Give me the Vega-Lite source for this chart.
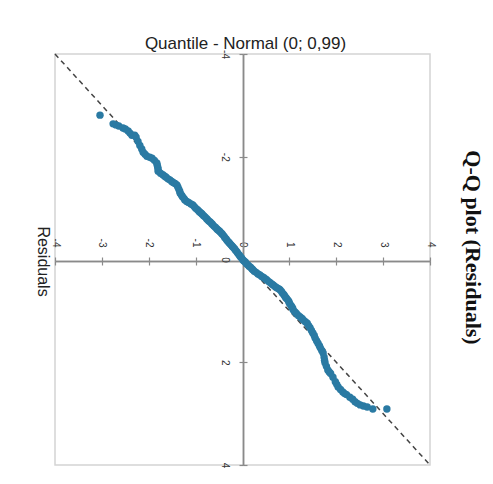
{
  "$schema": "https://vega.github.io/schema/vega-lite/v6.json",
  "width": 375,
  "height": 411,
  "autosize": "none",
  "padding": {"left": 55, "top": 54, "right": 63, "bottom": 19},
  "background": "white",
  "config": {
    "view": {"stroke": "#d4d4d4", "strokeWidth": 1.5},
    "axis": {"grid": false, "domainColor": "#8a8a8a", "domainWidth": 1.5, "tickColor": "#8a8a8a", "tickWidth": 1.2, "tickSize": 4, "labelFont": "Liberation Sans", "labelFontSize": 10, "labelColor": "#333333", "titleFont": "Liberation Sans", "titleFontWeight": "normal", "titleColor": "#222222"}
  },
  "title": {"text": "Q-Q plot (Residuals)", "orient": "right", "anchor": "middle", "font": "Liberation Serif", "fontSize": 22, "fontWeight": "bold", "color": "#111111", "offset": 26, "dx": -12},
  "datasets": {
    "diag": [{"a": -4, "b": -4, "a2": 4, "b2": 4}],
    "qq": [
      {"residual": -3.04, "quantile": -2.81},
      {"residual": -2.76, "quantile": -2.64},
      {"residual": -2.70, "quantile": -2.62},
      {"residual": -2.64, "quantile": -2.60},
      {"residual": -2.55, "quantile": -2.56},
      {"residual": -2.50, "quantile": -2.54},
      {"residual": -2.44, "quantile": -2.50},
      {"residual": -2.40, "quantile": -2.46},
      {"residual": -2.36, "quantile": -2.42},
      {"residual": -2.30, "quantile": -2.42},
      {"residual": -2.27, "quantile": -2.38},
      {"residual": -2.23, "quantile": -2.30},
      {"residual": -2.19, "quantile": -2.22},
      {"residual": -2.15, "quantile": -2.15},
      {"residual": -2.12, "quantile": -2.09},
      {"residual": -2.08, "quantile": -2.05},
      {"residual": -2.04, "quantile": -2.01},
      {"residual": -1.98, "quantile": -1.99},
      {"residual": -1.93, "quantile": -1.97},
      {"residual": -1.88, "quantile": -1.93},
      {"residual": -1.83, "quantile": -1.88},
      {"residual": -1.82, "quantile": -1.84},
      {"residual": -1.81, "quantile": -1.80},
      {"residual": -1.80, "quantile": -1.76},
      {"residual": -1.80, "quantile": -1.72},
      {"residual": -1.75, "quantile": -1.68},
      {"residual": -1.70, "quantile": -1.65},
      {"residual": -1.66, "quantile": -1.62},
      {"residual": -1.63, "quantile": -1.60},
      {"residual": -1.59, "quantile": -1.57},
      {"residual": -1.55, "quantile": -1.55},
      {"residual": -1.51, "quantile": -1.52},
      {"residual": -1.48, "quantile": -1.50},
      {"residual": -1.44, "quantile": -1.48},
      {"residual": -1.40, "quantile": -1.45},
      {"residual": -1.38, "quantile": -1.41},
      {"residual": -1.36, "quantile": -1.37},
      {"residual": -1.34, "quantile": -1.33},
      {"residual": -1.33, "quantile": -1.29},
      {"residual": -1.30, "quantile": -1.25},
      {"residual": -1.28, "quantile": -1.22},
      {"residual": -1.25, "quantile": -1.19},
      {"residual": -1.23, "quantile": -1.16},
      {"residual": -1.19, "quantile": -1.13},
      {"residual": -1.15, "quantile": -1.11},
      {"residual": -1.10, "quantile": -1.08},
      {"residual": -1.06, "quantile": -1.06},
      {"residual": -1.03, "quantile": -1.03},
      {"residual": -1.00, "quantile": -1.00},
      {"residual": -0.96, "quantile": -0.97},
      {"residual": -0.93, "quantile": -0.94},
      {"residual": -0.91, "quantile": -0.92},
      {"residual": -0.88, "quantile": -0.90},
      {"residual": -0.86, "quantile": -0.88},
      {"residual": -0.83, "quantile": -0.85},
      {"residual": -0.80, "quantile": -0.83},
      {"residual": -0.77, "quantile": -0.80},
      {"residual": -0.75, "quantile": -0.78},
      {"residual": -0.72, "quantile": -0.75},
      {"residual": -0.69, "quantile": -0.73},
      {"residual": -0.66, "quantile": -0.70},
      {"residual": -0.64, "quantile": -0.68},
      {"residual": -0.61, "quantile": -0.65},
      {"residual": -0.58, "quantile": -0.63},
      {"residual": -0.55, "quantile": -0.60},
      {"residual": -0.53, "quantile": -0.58},
      {"residual": -0.50, "quantile": -0.56},
      {"residual": -0.48, "quantile": -0.54},
      {"residual": -0.45, "quantile": -0.51},
      {"residual": -0.43, "quantile": -0.49},
      {"residual": -0.40, "quantile": -0.46},
      {"residual": -0.38, "quantile": -0.43},
      {"residual": -0.35, "quantile": -0.40},
      {"residual": -0.33, "quantile": -0.37},
      {"residual": -0.30, "quantile": -0.34},
      {"residual": -0.28, "quantile": -0.32},
      {"residual": -0.26, "quantile": -0.30},
      {"residual": -0.24, "quantile": -0.28},
      {"residual": -0.22, "quantile": -0.26},
      {"residual": -0.20, "quantile": -0.24},
      {"residual": -0.17, "quantile": -0.21},
      {"residual": -0.15, "quantile": -0.18},
      {"residual": -0.12, "quantile": -0.15},
      {"residual": -0.10, "quantile": -0.12},
      {"residual": -0.07, "quantile": -0.09},
      {"residual": -0.05, "quantile": -0.06},
      {"residual": -0.02, "quantile": -0.03},
      {"residual": 0.01, "quantile": 0.01},
      {"residual": 0.03, "quantile": 0.03},
      {"residual": 0.06, "quantile": 0.05},
      {"residual": 0.08, "quantile": 0.08},
      {"residual": 0.11, "quantile": 0.10},
      {"residual": 0.14, "quantile": 0.13},
      {"residual": 0.17, "quantile": 0.15},
      {"residual": 0.20, "quantile": 0.18},
      {"residual": 0.22, "quantile": 0.20},
      {"residual": 0.25, "quantile": 0.23},
      {"residual": 0.29, "quantile": 0.25},
      {"residual": 0.33, "quantile": 0.28},
      {"residual": 0.37, "quantile": 0.30},
      {"residual": 0.41, "quantile": 0.33},
      {"residual": 0.45, "quantile": 0.35},
      {"residual": 0.49, "quantile": 0.38},
      {"residual": 0.52, "quantile": 0.40},
      {"residual": 0.56, "quantile": 0.43},
      {"residual": 0.59, "quantile": 0.45},
      {"residual": 0.63, "quantile": 0.48},
      {"residual": 0.66, "quantile": 0.50},
      {"residual": 0.70, "quantile": 0.53},
      {"residual": 0.73, "quantile": 0.55},
      {"residual": 0.77, "quantile": 0.57},
      {"residual": 0.80, "quantile": 0.59},
      {"residual": 0.83, "quantile": 0.62},
      {"residual": 0.85, "quantile": 0.65},
      {"residual": 0.88, "quantile": 0.68},
      {"residual": 0.90, "quantile": 0.71},
      {"residual": 0.92, "quantile": 0.74},
      {"residual": 0.94, "quantile": 0.76},
      {"residual": 0.97, "quantile": 0.79},
      {"residual": 0.99, "quantile": 0.82},
      {"residual": 1.00, "quantile": 0.85},
      {"residual": 1.03, "quantile": 0.89},
      {"residual": 1.05, "quantile": 0.92},
      {"residual": 1.07, "quantile": 0.95},
      {"residual": 1.08, "quantile": 0.98},
      {"residual": 1.12, "quantile": 1.02},
      {"residual": 1.15, "quantile": 1.05},
      {"residual": 1.19, "quantile": 1.09},
      {"residual": 1.23, "quantile": 1.12},
      {"residual": 1.27, "quantile": 1.15},
      {"residual": 1.30, "quantile": 1.18},
      {"residual": 1.34, "quantile": 1.21},
      {"residual": 1.38, "quantile": 1.24},
      {"residual": 1.41, "quantile": 1.29},
      {"residual": 1.44, "quantile": 1.33},
      {"residual": 1.47, "quantile": 1.38},
      {"residual": 1.50, "quantile": 1.43},
      {"residual": 1.53, "quantile": 1.48},
      {"residual": 1.55, "quantile": 1.53},
      {"residual": 1.58, "quantile": 1.58},
      {"residual": 1.61, "quantile": 1.63},
      {"residual": 1.64, "quantile": 1.68},
      {"residual": 1.66, "quantile": 1.72},
      {"residual": 1.69, "quantile": 1.77},
      {"residual": 1.72, "quantile": 1.82},
      {"residual": 1.74, "quantile": 1.90},
      {"residual": 1.75, "quantile": 1.96},
      {"residual": 1.76, "quantile": 2.01},
      {"residual": 1.79, "quantile": 2.08},
      {"residual": 1.82, "quantile": 2.15},
      {"residual": 1.85, "quantile": 2.19},
      {"residual": 1.88, "quantile": 2.22},
      {"residual": 1.93, "quantile": 2.29},
      {"residual": 1.98, "quantile": 2.38},
      {"residual": 2.01, "quantile": 2.43},
      {"residual": 2.04, "quantile": 2.48},
      {"residual": 2.09, "quantile": 2.53},
      {"residual": 2.14, "quantile": 2.58},
      {"residual": 2.18, "quantile": 2.61},
      {"residual": 2.22, "quantile": 2.63},
      {"residual": 2.29, "quantile": 2.68},
      {"residual": 2.35, "quantile": 2.72},
      {"residual": 2.40, "quantile": 2.77},
      {"residual": 2.45, "quantile": 2.80},
      {"residual": 2.51, "quantile": 2.83},
      {"residual": 2.58, "quantile": 2.85},
      {"residual": 2.66, "quantile": 2.87},
      {"residual": 2.78, "quantile": 2.91},
      {"residual": 3.08, "quantile": 2.91}
    ]
  },
  "resolve": {"axis": {"x": "independent", "y": "independent"}},
  "layer": [
    {
      "data": {"name": "diag"},
      "mark": {"type": "rule", "color": "#444444", "strokeWidth": 1.5, "strokeDash": [5, 4]},
      "encoding": {
        "x": {"field": "a", "type": "quantitative", "scale": {"domain": [-4, 4], "nice": false}, "axis": {"orient": "bottom", "offset": -204, "values": [-4, -3, -2, -1, 0, 1, 2, 3, 4], "labels": false, "title": null}},
        "y": {"field": "b", "type": "quantitative", "scale": {"domain": [-4, 4], "nice": false, "reverse": true}, "axis": {"orient": "right", "offset": -187, "values": [-4, -2, 0, 2, 4], "labels": false, "title": null}},
        "x2": {"field": "a2"},
        "y2": {"field": "b2"}
      }
    },
    {
      "data": {"name": "qq"},
      "mark": {"type": "circle", "size": 55, "opacity": 1, "color": "#2a7aa3"},
      "encoding": {
        "x": {"field": "residual", "type": "quantitative", "axis": {"orient": "top", "offset": -207, "values": [-4, -3, -2, -1, 0, 1, 2, 3, 4], "labelExpr": "'' + datum.value", "labelAngle": 90, "labelAlign": "right", "labelBaseline": "middle", "labelPadding": 10, "title": "Residuals", "titleAngle": 90, "titleX": -13, "titleY": 0, "titleAlign": "center", "titleBaseline": "middle", "titleFontSize": 16}},
        "y": {"field": "quantile", "type": "quantitative", "axis": {"orient": "left", "offset": -188, "values": [-4, -2, 0, 2, 4], "labelExpr": "'' + datum.value", "labelAngle": 90, "labelAlign": "center", "labelBaseline": "top", "labelPadding": 10, "title": "Quantile - Normal (0; 0,99)", "titleAngle": 0, "titleX": 2, "titleY": -11, "titleAlign": "center", "titleBaseline": "middle", "titleFontSize": 17}}
      }
    }
  ]
}
